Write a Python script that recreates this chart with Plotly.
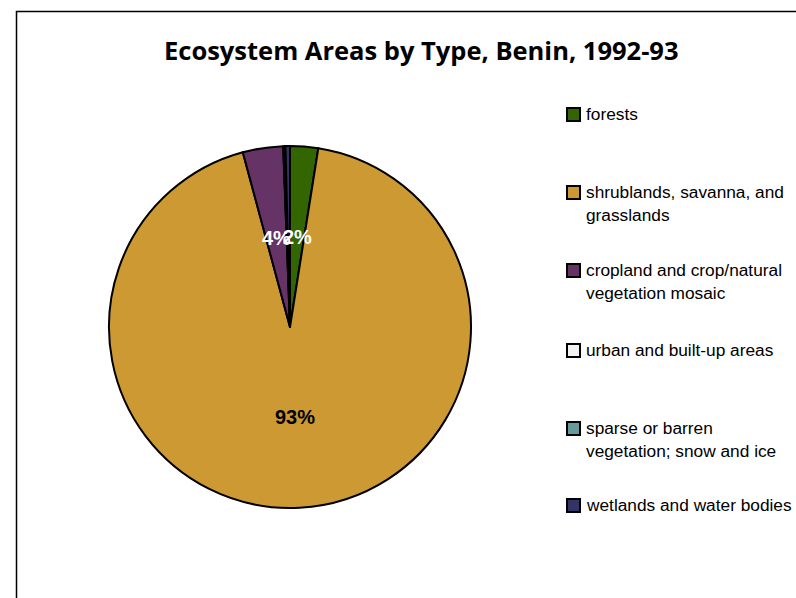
import math
import plotly.graph_objects as go

W, H = 796, 598

categories = [
    "forests",
    "shrublands, savanna, and grasslands",
    "cropland and crop/natural vegetation mosaic",
    "urban and built-up areas",
    "sparse or barren vegetation; snow and ice",
    "wetlands and water bodies",
]
legend_lines = [
    ["forests"],
    ["shrublands, savanna, and", "grasslands"],
    ["cropland and crop/natural", "vegetation mosaic"],
    ["urban and built-up areas"],
    ["sparse or barren", "vegetation; snow and ice"],
    ["wetlands and water bodies"],
]
values = [2.5, 93.3, 3.6, 0.15, 0.05, 0.4]
colors = ["#336600", "#CC9933", "#663366", "#F2F2F2", "#669999", "#333366"]
label_colors = ["white", "black", "white", "white", "white", "white"]

# pie geometry (pixels)
cx, cy, R = 290, 327, 181

fig = go.Figure()
fig.add_trace(go.Pie(
    labels=categories,
    values=values,
    sort=False,
    direction="clockwise",
    rotation=0,
    marker=dict(colors=colors, line=dict(color="black", width=2)),
    textinfo="none",
    hoverinfo="label+percent",
    showlegend=False,
    domain=dict(x=[(cx - R) / W, (cx + R) / W], y=[1 - (cy + R) / H, 1 - (cy - R) / H]),
))

annotations = []
total = sum(values)
cum = 0.0
for v, lc in zip(values, label_colors):
    mid = (cum + v / 2) / total * 2 * math.pi
    cum += v
    pct = round(v / total * 100)
    if pct == 0:
        continue
    r = 0.5 * R
    px = cx + r * math.sin(mid)
    py = cy - r * math.cos(mid)
    annotations.append(dict(
        x=px / W, y=1 - py / H, xref="paper", yref="paper",
        xanchor="center", yanchor="middle",
        text=f"<b>{pct}%</b>", showarrow=False,
        font=dict(family="Liberation Sans, Arial", size=20, color=lc),
    ))

# manual legend
shapes = []
leg_x = 567
slot_y = [114, 192, 270, 350, 428, 505]
for lines, col, y in zip(legend_lines, colors, slot_y):
    shapes.append(dict(
        type="rect", xref="paper", yref="paper",
        x0=leg_x / W, x1=(leg_x + 13) / W,
        y0=1 - (y + 7) / H, y1=1 - (y - 6) / H,
        fillcolor=col, line=dict(color="black", width=2),
    ))
    for i, ln in enumerate(lines):
        annotations.append(dict(
            x=(leg_x + 17) / W, y=1 - (y + 23 * i) / H, xref="paper", yref="paper",
            xanchor="left", yanchor="middle", text=ln, showarrow=False,
            font=dict(family="Liberation Sans, Arial", size=17.3, color="black"),
        ))

# frame
shapes.append(dict(
    type="rect", xref="paper", yref="paper",
    x0=16.5 / W, x1=1.05, y0=-0.05, y1=1 - 11.5 / H,
    line=dict(color="black", width=1.5), fillcolor="rgba(0,0,0,0)",
))

annotations.append(dict(
    x=421 / W, y=1 - 50 / H, xref="paper", yref="paper",
    text="<b>Ecosystem Areas by Type, Benin, 1992-93</b>", showarrow=False,
    xanchor="center", yanchor="middle",
    font=dict(family="Open Sans", size=25.5, color="black"),
))

fig.update_layout(
    width=W, height=H,
    margin=dict(l=0, r=0, t=0, b=0),
    paper_bgcolor="white", plot_bgcolor="white",
    shapes=shapes, annotations=annotations,
    showlegend=False,
)

fig.write_html("out.html")
